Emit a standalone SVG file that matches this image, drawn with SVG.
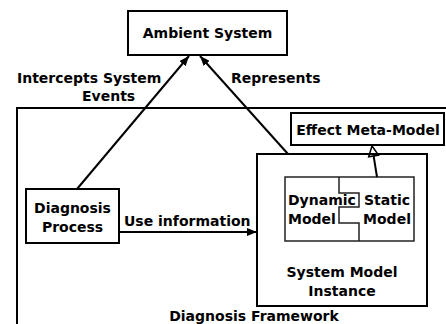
<svg xmlns="http://www.w3.org/2000/svg" width="446" height="324" viewBox="0 0 446 324">
<style>
text{font-family:"DejaVu Sans","Liberation Sans",sans-serif;font-weight:bold;font-size:14px;fill:#000}
.box{fill:#fff;stroke:#000;stroke-width:2}
.thin{fill:none;stroke:#222;stroke-width:1.5}
.conn{fill:none;stroke:#000;stroke-width:2}
.mid{text-anchor:middle}
</style>
<defs>
<marker id="arr" markerUnits="userSpaceOnUse" markerWidth="10" markerHeight="8" refX="10" refY="4" orient="auto" viewBox="0 0 10 8">
<path d="M0,0 L10,4 L0,8 Z" fill="#000"/>
</marker>
<marker id="tri" markerUnits="userSpaceOnUse" markerWidth="14" markerHeight="14" refX="0" refY="0" orient="auto" viewBox="-2 -7 14 14">
<path d="M0,-5 L10,0 L0,5 Z" fill="none" stroke="#000" stroke-width="1.5"/>
</marker>
</defs>
<g id="diagnosis-framework">
<path d="M17,330 V108 H450" class="conn"/>
<text x="254" y="321" class="mid">Diagnosis Framework</text>
</g>
<g id="ambient-system">
<rect x="128" y="11" width="159" height="44" class="box"/>
<text x="207.5" y="38" class="mid">Ambient System</text>
</g>
<g id="diagnosis-process">
<rect x="26" y="189" width="93" height="54" class="box"/>
<text x="72.5" y="213" class="mid">Diagnosis</text>
<text x="72.5" y="232" class="mid">Process</text>
</g>
<g id="effect-meta-model">
<rect x="291" y="113" width="153" height="32" class="box"/>
<text x="368" y="135" class="mid">Effect Meta-Model</text>
</g>
<g id="system-model-instance">
<rect x="257" y="154" width="170" height="152" class="box"/>
<text x="342" y="277" class="mid">System Model</text>
<text x="342" y="296" class="mid">Instance</text>
</g>
<g id="model-component">
<rect x="285" y="177" width="129" height="64" fill="#fff" class="thin"/>
<path d="M339,177 V193 H359 V207 H339 V223 H359 V241" class="thin"/>
<text x="288" y="205">Dynamic</text>
<text x="288" y="224">Model</text>
<text x="387" y="205" class="mid">Static</text>
<text x="387" y="224" class="mid">Model</text>
</g>
<g id="connectors">
<line x1="77" y1="189" x2="189" y2="56" class="conn" marker-end="url(#arr)"/>
<line x1="288" y1="154" x2="200" y2="56" class="conn" marker-end="url(#arr)"/>
<line x1="119" y1="232" x2="257" y2="232" class="conn" marker-end="url(#arr)"/>
<line x1="377" y1="177" x2="373.6" y2="155.9" class="conn" marker-end="url(#tri)"/>
<text x="17" y="83">Intercepts System</text>
<text x="82" y="101">Events</text>
<text x="231" y="83">Represents</text>
<text x="124" y="226">Use information</text>
</g>
</svg>
